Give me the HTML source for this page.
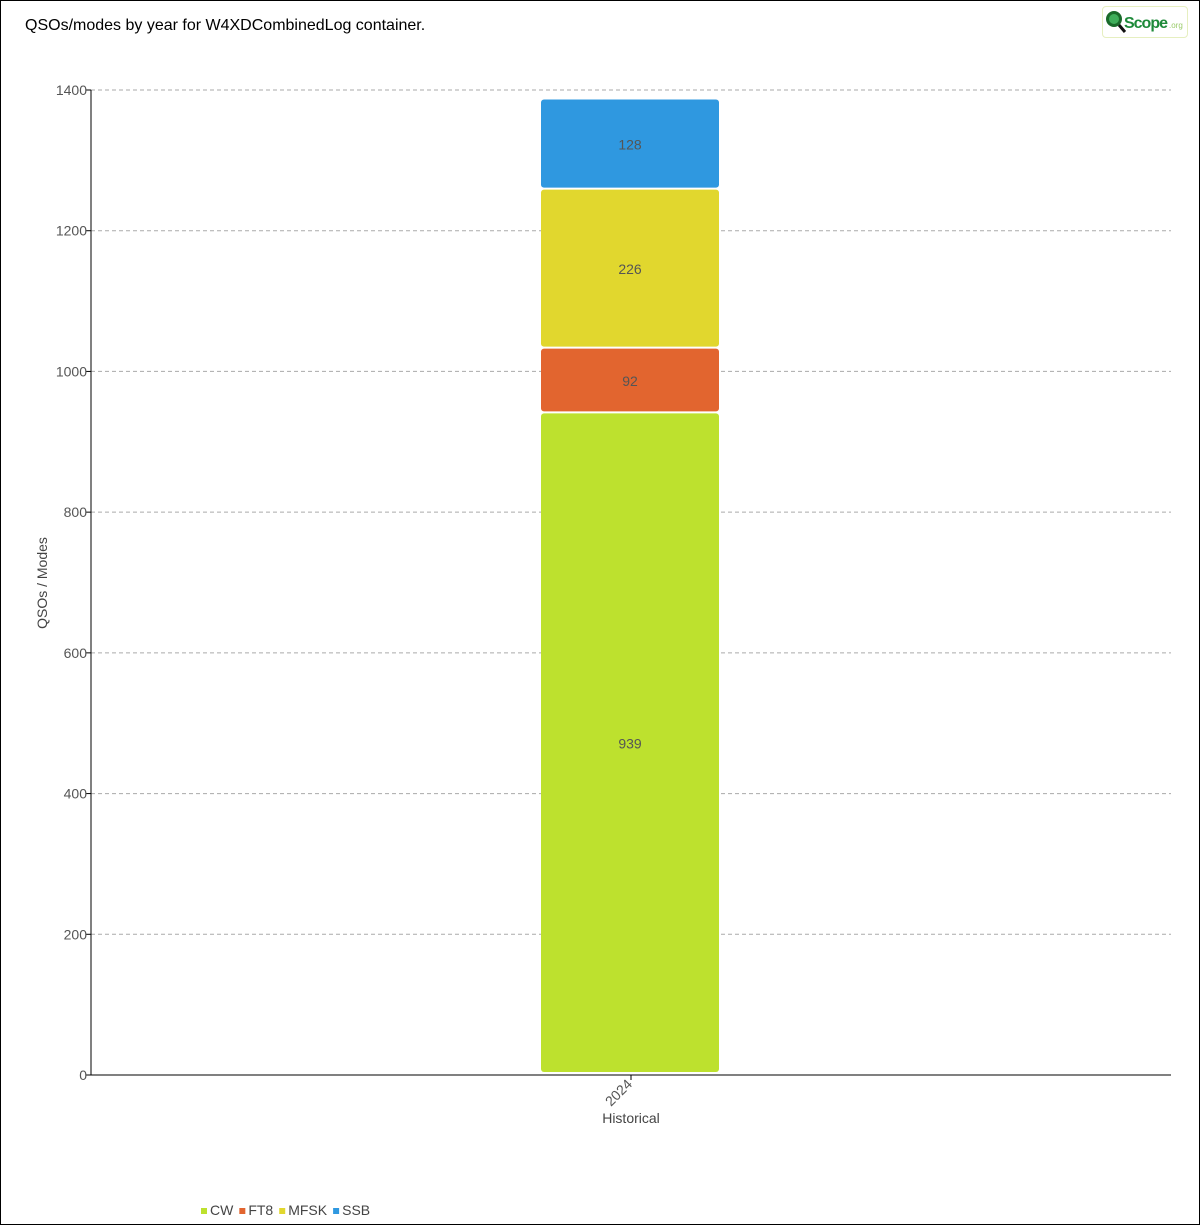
<!DOCTYPE html>
<html><head><meta charset="utf-8"><style>
html,body{margin:0;padding:0;background:#fff;}
#wrap{position:relative;width:1198px;height:1223px;border:1px solid #000;overflow:hidden;font-family:"Liberation Sans",sans-serif;}
#title{position:absolute;left:24px;top:16px;font-size:16px;color:#000;letter-spacing:0px;}
#logo{position:absolute;left:1101px;top:5px;width:84px;height:30px;border:1px solid #e6efc0;border-radius:4px;}
</style></head><body>
<div id="wrap">
<div id="title">QSOs/modes by year for W4XDCombinedLog container.</div>
<div id="logo">
<svg width="84" height="30">
<circle cx="11" cy="12" r="8" fill="#1a6a2a"/><circle cx="11" cy="12" r="5" fill="#3fae5a"/>
<line x1="16" y1="18" x2="22" y2="25" stroke="#111" stroke-width="3"/>
<text x="21" y="21" font-family="Liberation Sans" font-weight="bold" font-size="16" fill="#1e8a3a" textLength="44">Scope</text>
<text x="66" y="21" font-family="Liberation Sans" font-size="8" fill="#9acb6a">.org</text>
</svg></div>
<svg id="chart" width="1198" height="1223" style="position:absolute;left:0;top:0;pointer-events:none"></svg>
</div>
<script>
const categories=["2024"];
const seriesNames=["CW","FT8","MFSK","SSB"];
const seriesColors=["#bde12e","#e2652f","#e1d72e","#2f98e0"];
const cwValues=[939];
const ft8Values=[92];
const mfskValues=[226];
const ssbValues=[128];
const yTicks=[0,200,400,600,800,1000,1200,1400];
const series=[cwValues,ft8Values,mfskValues,ssbValues];
const NS="http://www.w3.org/2000/svg";
const svg=document.getElementById('chart');
const X0=90,X1=1170,Y0=1074,Y1=89,YMAX=1400;
const y=v=>Y0-(v/YMAX)*(Y0-Y1);
const bw=(X1-X0)/categories.length;
const xc=i=>X0+bw*(i+0.5);
function mk(t,a){const e=document.createElementNS(NS,t);for(const k in a)e.setAttribute(k,a[k]);svg.appendChild(e);return e;}
yTicks.forEach(t=>{
  if(t>0){const g=mk('line',{x1:X0,x2:X1,y1:y(t),y2:y(t),stroke:'#aaa','stroke-dasharray':'4,3'});
  
  }
  const tk=mk('line',{x1:X0-5,x2:X0,y1:y(t),y2:y(t),stroke:'#000'});
  
  
  const l=mk('text',{x:X0-4,y:y(t)+5,'text-anchor':'end','font-size':'14',fill:'#555','font-family':'Liberation Sans'});
  l.textContent=t;
  
  
});
categories.forEach((c,i)=>{
  let acc=0;const w=178;
  series.forEach((s,j)=>{
    const v=s[i];const top=y(acc+v),bot=y(acc);
    const r=mk('rect',{x:xc(i)-w/2-1,y:top-1,width:w,height:Math.max(0,bot-top-2),rx:3,fill:seriesColors[j]});
    
    
    const t=mk('text',{x:xc(i)-1,y:(top+bot)/2+4,'text-anchor':'middle','font-size':'14',fill:'#555','font-family':'Liberation Sans'});
    t.textContent=v;
    
    
    acc+=v;
  });
  const tk=mk('line',{x1:xc(i),x2:xc(i),y1:Y0,y2:Y0+5,stroke:'#000'});
  
  
  const xl=mk('text',{x:xc(i)+2,y:Y0+10,'text-anchor':'end','font-size':'14',fill:'#555','font-family':'Liberation Sans',transform:`rotate(-45 ${xc(i)+2} ${Y0+10})`});
  xl.textContent=c;
  
  
});
const ya=mk('line',{x1:X0,x2:X0,y1:Y1,y2:Y0,stroke:'#000'});


const xa=mk('line',{x1:X0,x2:X1,y1:Y0,y2:Y0,stroke:'#000'});


const xt=mk('text',{x:630,y:1122,'text-anchor':'middle','font-size':'14',fill:'#444','font-family':'Liberation Sans'});
xt.textContent='Historical';


const yt=mk('text',{x:46,y:582,'text-anchor':'middle','font-size':'14',fill:'#444','font-family':'Liberation Sans',transform:'rotate(-90 46 582)'});
yt.textContent='QSOs / Modes';


let lx=200;
seriesNames.forEach((n,j)=>{
  const sq=mk('rect',{x:lx,y:1207,width:6,height:6,fill:seriesColors[j]});
  
  
  const t=mk('text',{x:lx+9,y:1214,'font-size':'14',fill:'#444','font-family':'Liberation Sans'});
  t.textContent=n;
  
  
  lx+=9+t.getComputedTextLength()+6;
});
</script>
</body></html>
